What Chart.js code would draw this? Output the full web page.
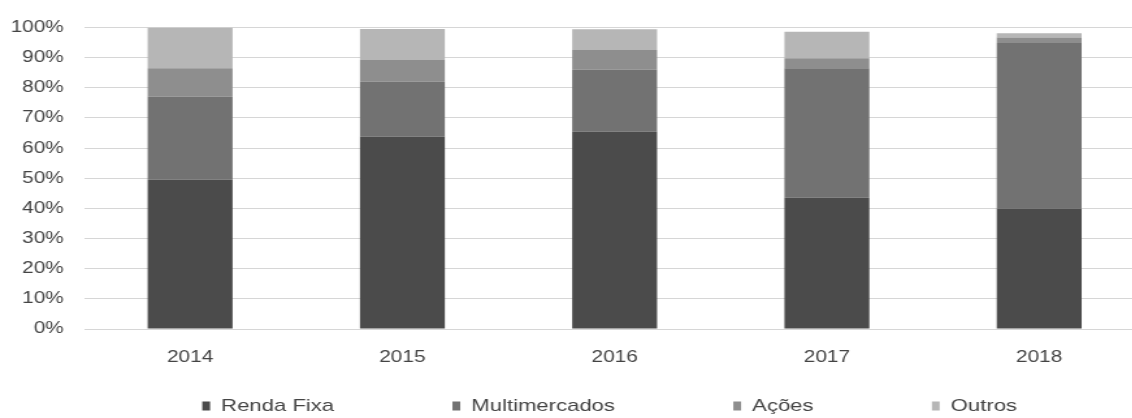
<!DOCTYPE html>
<html>
<head>
<meta charset="utf-8">
<script src="https://cdn.jsdelivr.net/npm/chart.js@4/dist/chart.umd.min.js"></script>
<style>
  html, body { margin: 0; padding: 0; background: #ffffff; overflow: hidden; }
  body { width: 1132px; height: 418px; }
  /* chart is laid out narrow and stretched horizontally */
  #wrap { width: 900px; height: 418px; transform: scaleX(1.3); transform-origin: 0 0; }
</style>
</head>
<body>
<div id="wrap"><canvas id="c"></canvas></div>
<script>
// Composition by year (% of total)
const years = ['2014', '2015', '2016', '2017', '2018'];
const rendaFixa     = [49.5, 63.8, 65.4, 43.5, 40.0];
const multimercados = [27.5, 18.2, 20.6, 43.0, 54.9];
const acoes         = [ 9.5,  7.2,  6.5,  3.3,  1.8];
const outros        = [13.5, 10.3,  6.9,  8.8,  1.4];
const yTicks = [0, 10, 20, 30, 40, 50, 60, 70, 80, 90, 100];

const seriesNames  = ['Renda Fixa', 'Multimercados', 'Ações', 'Outros'];
const seriesValues = [rendaFixa, multimercados, acoes, outros];
const seriesColors = ['#4b4b4b', '#727272', '#8e8e8e', '#b6b6b6'];

const TEXT = '#444444';
const FONT = "'Liberation Sans', Arial, sans-serif";
const LEGEND_PAD = 91;
const LEGEND_FONT = 17;
const LEGEND_Y = 406;

// keeps the wide legend spacing without reserving its full height
const legendPlacement = {
  id: 'legendPlacement',
  afterLayout(chart) {
    const lg = chart.legend;
    if (!lg) return;
    lg.top = LEGEND_Y - LEGEND_PAD - LEGEND_FONT / 2;
    lg.bottom = chart.height;
    lg.left = chart.chartArea.left;
    lg.right = chart.width;
    lg.width = lg.right - lg.left;
    lg.height = lg.bottom - lg.top;
  }
};

new Chart(document.getElementById('c'), {
  type: 'bar',
  data: {
    labels: years,
    datasets: seriesNames.map((name, i) => ({
      label: name,
      data: seriesValues[i],
      backgroundColor: seriesColors[i],
      borderWidth: 0,
      barPercentage: 0.4,
      categoryPercentage: 1.0
    }))
  },
  options: {
    responsive: true,
    maintainAspectRatio: false,
    animation: false,
    layout: { padding: { top: 27.5, right: 19, bottom: 0, left: 0 } },
    scales: {
      x: {
        stacked: true,
        grid: { display: false, drawTicks: false },
        border: { display: false },
        ticks: { color: TEXT, font: { family: FONT, size: 16 }, padding: 18.5 },
        afterFit(scale) { scale.height = 36; }
      },
      y: {
        stacked: true,
        min: 0,
        max: 100,
        afterBuildTicks(scale) { scale.ticks = yTicks.map(v => ({ value: v })); },
        grid: { color: '#d6d6d6', lineWidth: 1, drawTicks: false },
        border: { display: false },
        ticks: {
          color: TEXT,
          font: { family: FONT, size: 16 },
          padding: 15.5,
          callback: v => v + '%'
        },
        afterFit(scale) { scale.width = 64.6; }
      }
    },
    plugins: {
      tooltip: { enabled: false },
      legend: {
        position: 'bottom',
        align: 'start',
        maxHeight: 53,
        labels: {
          color: TEXT,
          font: { family: FONT, size: LEGEND_FONT },
          boxWidth: 6,
          boxHeight: 9,
          padding: LEGEND_PAD
        }
      }
    }
  },
  plugins: [legendPlacement]
});
</script>
</body>
</html>
